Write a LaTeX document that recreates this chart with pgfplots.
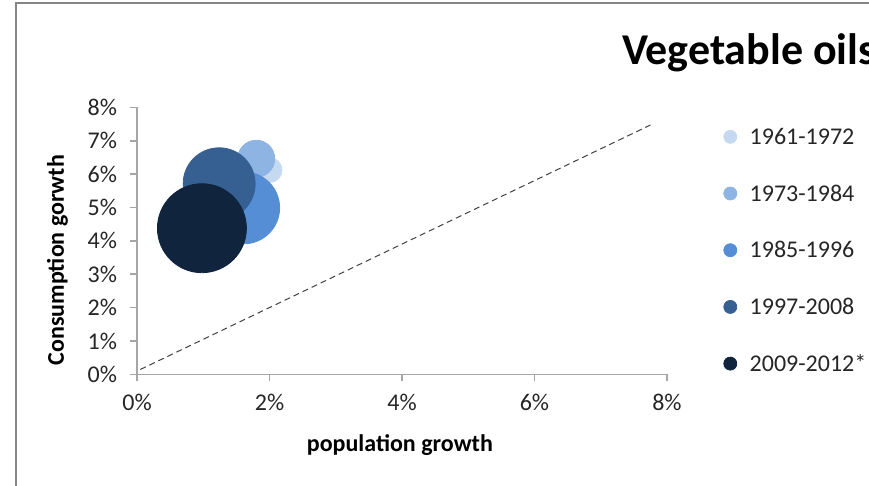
\documentclass[border=0pt]{standalone}
\usepackage{pgfplots}
\pgfplotsset{compat=1.18}
\usepackage{fontspec}
\setmainfont{Carlito}
\definecolor{cA}{HTML}{C5D9F1}
\definecolor{cB}{HTML}{8EB4E3}
\definecolor{cC}{HTML}{558ED5}
\definecolor{cD}{HTML}{376092}
\definecolor{cE}{HTML}{10243E}
\definecolor{axgray}{HTML}{A6A6A6}
\definecolor{txt}{HTML}{262626}
\begin{document}
\begin{tikzpicture}[x=1pt,y=1pt]
\path[use as bounding box] (0,0) rectangle (434.5,243);
\draw[color=axgray!80!black, line width=0.6pt] (8,0) -- (8,241.5) -- (440,241.5);
\node[anchor=base west, font=\fontsize{22}{26}\selectfont\bfseries, inner sep=0pt] at (310.8,210.5) {Vegetable oils};
\begin{axis}[
  at={(68.5pt,55.75pt)}, anchor=south west,
  scale only axis, width=265pt, height=133.6pt,
  xmin=0, xmax=8, ymin=0, ymax=8,
  axis lines*=left,
  axis line style={color=axgray, line width=0.8pt},
  xtick={0,2,4,6,8}, ytick={0,1,2,3,4,5,6,7,8},
  tick style={color=axgray, line width=0.8pt},
  tick align=outside, major tick length=3.5pt,
  /pgf/number format/assume math mode=true,
  xticklabel={\pgfmathprintnumber{\tick}\%},
  yticklabel={\pgfmathprintnumber{\tick}\%},
  ticklabel style={font=\fontsize{12}{14}\selectfont, text=txt},
  xticklabel style={yshift=-3pt},
  yticklabel style={xshift=-3pt},
  xlabel={population growth},
  ylabel={Consumption gorwth},
  xlabel style={font=\fontsize{12}{14}\selectfont\bfseries, at={(axis description cs:0.496,-0.264)}, anchor=center},
  ylabel style={font=\fontsize{12}{14}\selectfont\bfseries, at={(axis description cs:-0.150,0.428)}, anchor=center, rotate=0},
  clip=false,
  legend style={at={(axis description cs:1.1057,0.93)}, draw=none, fill=none, anchor=north west,
    font=\fontsize{12}{14}\selectfont, text=txt, row sep=16.35pt, inner sep=0pt,
    nodes={inner sep=0pt, text height=9pt, text depth=3pt}},
  legend cell align=left,
  legend image code/.code={\fill[#1] (0.12cm,0.8pt) circle (3.25pt);\path (0.12cm+9.5pt,0.8pt);},
]
\addplot[only marks, mark=*, mark size=6.25pt, color=cA, mark options={draw=none, fill=cA}, forget plot] coordinates {(2.00,6.12)};
\addplot[only marks, mark=*, mark size=9.25pt, color=cB, mark options={draw=none, fill=cB}, forget plot] coordinates {(1.80,6.46)};
\addplot[only marks, mark=*, mark size=18pt, color=cC, mark options={draw=none, fill=cC}, forget plot] coordinates {(1.61,4.99)};
\addplot[only marks, mark=*, mark size=18pt, color=cD, mark options={draw=none, fill=cD}, forget plot] coordinates {(1.24,5.71)};
\addplot[only marks, mark=*, mark size=22.25pt, color=cE, mark options={draw=none, fill=cE}, forget plot] coordinates {(0.98,4.38)};
\addplot[dashed, black!75, line width=0.5pt, dash pattern=on 3pt off 2pt, forget plot] coordinates {(0.05,0.15) (7.75,7.47)};
\addlegendimage{cA, fill=cA}\addlegendentry{1961-1972}
\addlegendimage{cB, fill=cB}\addlegendentry{1973-1984}
\addlegendimage{cC, fill=cC}\addlegendentry{1985-1996}
\addlegendimage{cD, fill=cD}\addlegendentry{1997-2008}
\addlegendimage{cE, fill=cE}\addlegendentry{2009-2012*}
\end{axis}
\end{tikzpicture}
\end{document}
